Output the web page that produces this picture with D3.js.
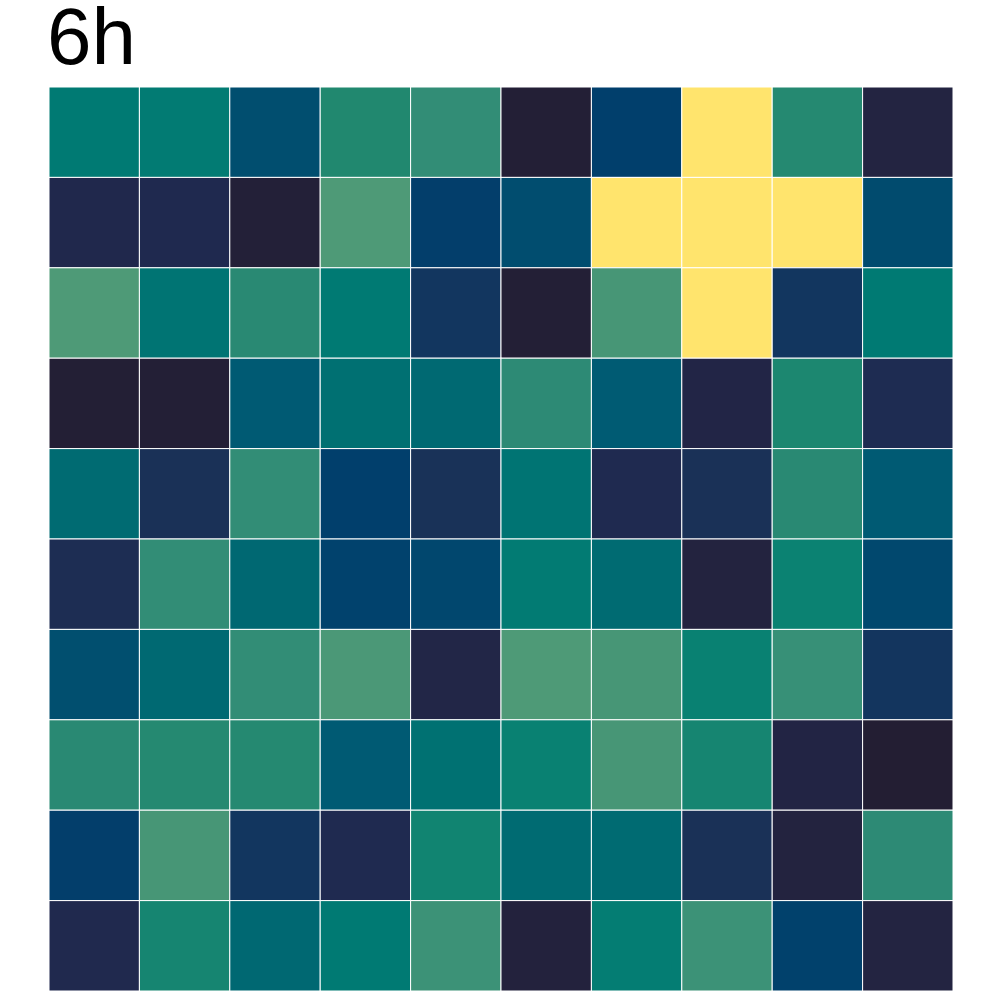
<!DOCTYPE html>
<html>
<head>
<meta charset="utf-8">
<script src="https://cdn.jsdelivr.net/npm/d3@7"></script>
<style>
  body { margin: 0; background: #fff; }
  svg { display: block; }
</style>
</head>
<body>
<div id="heatmap"></div>
<script>
// grid labels (10 x 10), rows top to bottom
var cols = d3.range(1, 11);
var rows = d3.range(1, 11);
var title = "6h";

// cell values, row by row; values above 1 fall outside the colour range
var row1  = [0.80, 0.81, 0.50, 0.90, 0.94, 0.02, 0.40, 2.00, 0.91, 0.08];
var row2  = [0.15, 0.17, 0.03, 1.00, 0.39, 0.49, 2.00, 2.00, 2.00, 0.48];
var row3  = [1.00, 0.76, 0.92, 0.80, 0.31, 0.02, 0.98, 2.00, 0.31, 0.80];
var row4  = [0.01, 0.02, 0.59, 0.73, 0.69, 0.93, 0.60, 0.10, 0.89, 0.20];
var row5  = [0.70, 0.25, 0.94, 0.40, 0.26, 0.76, 0.18, 0.25, 0.92, 0.59];
var row6  = [0.21, 0.94, 0.68, 0.42, 0.45, 0.81, 0.70, 0.07, 0.86, 0.46];
var row7  = [0.51, 0.69, 0.94, 0.99, 0.11, 1.00, 0.98, 0.85, 0.95, 0.30];
var row8  = [0.92, 0.91, 0.91, 0.59, 0.74, 0.85, 0.98, 0.88, 0.09, 0.00];
var row9  = [0.39, 0.98, 0.31, 0.18, 0.87, 0.70, 0.70, 0.25, 0.07, 0.93];
var row10 = [0.16, 0.88, 0.68, 0.80, 0.96, 0.06, 0.82, 0.96, 0.41, 0.08];
var values = [row1, row2, row3, row4, row5, row6, row7, row8, row9, row10];

// colour ramp
var stops  = [0, 0.07, 0.10, 0.18, 0.25, 0.31, 0.40, 0.50, 0.60, 0.70, 0.80, 0.86, 0.90, 0.93, 0.95, 0.98, 1.00];
var colors = ["#231e33", "#23233f", "#222546", "#1f2a50", "#1a3157", "#12365f", "#013f6c", "#014e6f",
              "#005b73", "#006b72", "#007a73", "#0b8272", "#21886f", "#2d8a75", "#379077", "#479676", "#4e9a77"];
var overColor = "#ffe46d";

var width = 1000, height = 1000;
var margin = { left: 49, right: 47, top: 87, bottom: 9 };

var svg = d3.select("#heatmap")
  .append("svg")
  .attr("width", width)
  .attr("height", height);

var x = d3.scaleBand().domain(cols).range([margin.left, width - margin.right]).padding(0);
var y = d3.scaleBand().domain(rows).range([margin.top, height - margin.bottom]).padding(0);

var fill = d3.scaleLinear().domain(stops).range(colors).interpolate(d3.interpolateRgb).clamp(true);
function colorOf(v) { return v > 1 ? overColor : fill(v); }

var cells = [];
values.forEach(function(r, i) {
  r.forEach(function(v, j) {
    cells.push({ row: rows[i], col: cols[j], value: v });
  });
});

svg.selectAll("rect.cell")
  .data(cells)
  .enter()
  .append("rect")
  .attr("class", "cell")
  .attr("x", function(d) { return x(d.col); })
  .attr("y", function(d) { return y(d.row); })
  .attr("width", x.bandwidth())
  .attr("height", y.bandwidth())
  .attr("fill", function(d) { return colorOf(d.value); })
  .attr("stroke", "#ffffff")
  .attr("stroke-width", 1);

svg.append("text")
  .attr("x", 47)
  .attr("y", 64)
  .attr("font-family", "'Liberation Sans', Arial, sans-serif")
  .attr("font-size", 80)
  .attr("fill", "#000")
  .text(title);
</script>
</body>
</html>
